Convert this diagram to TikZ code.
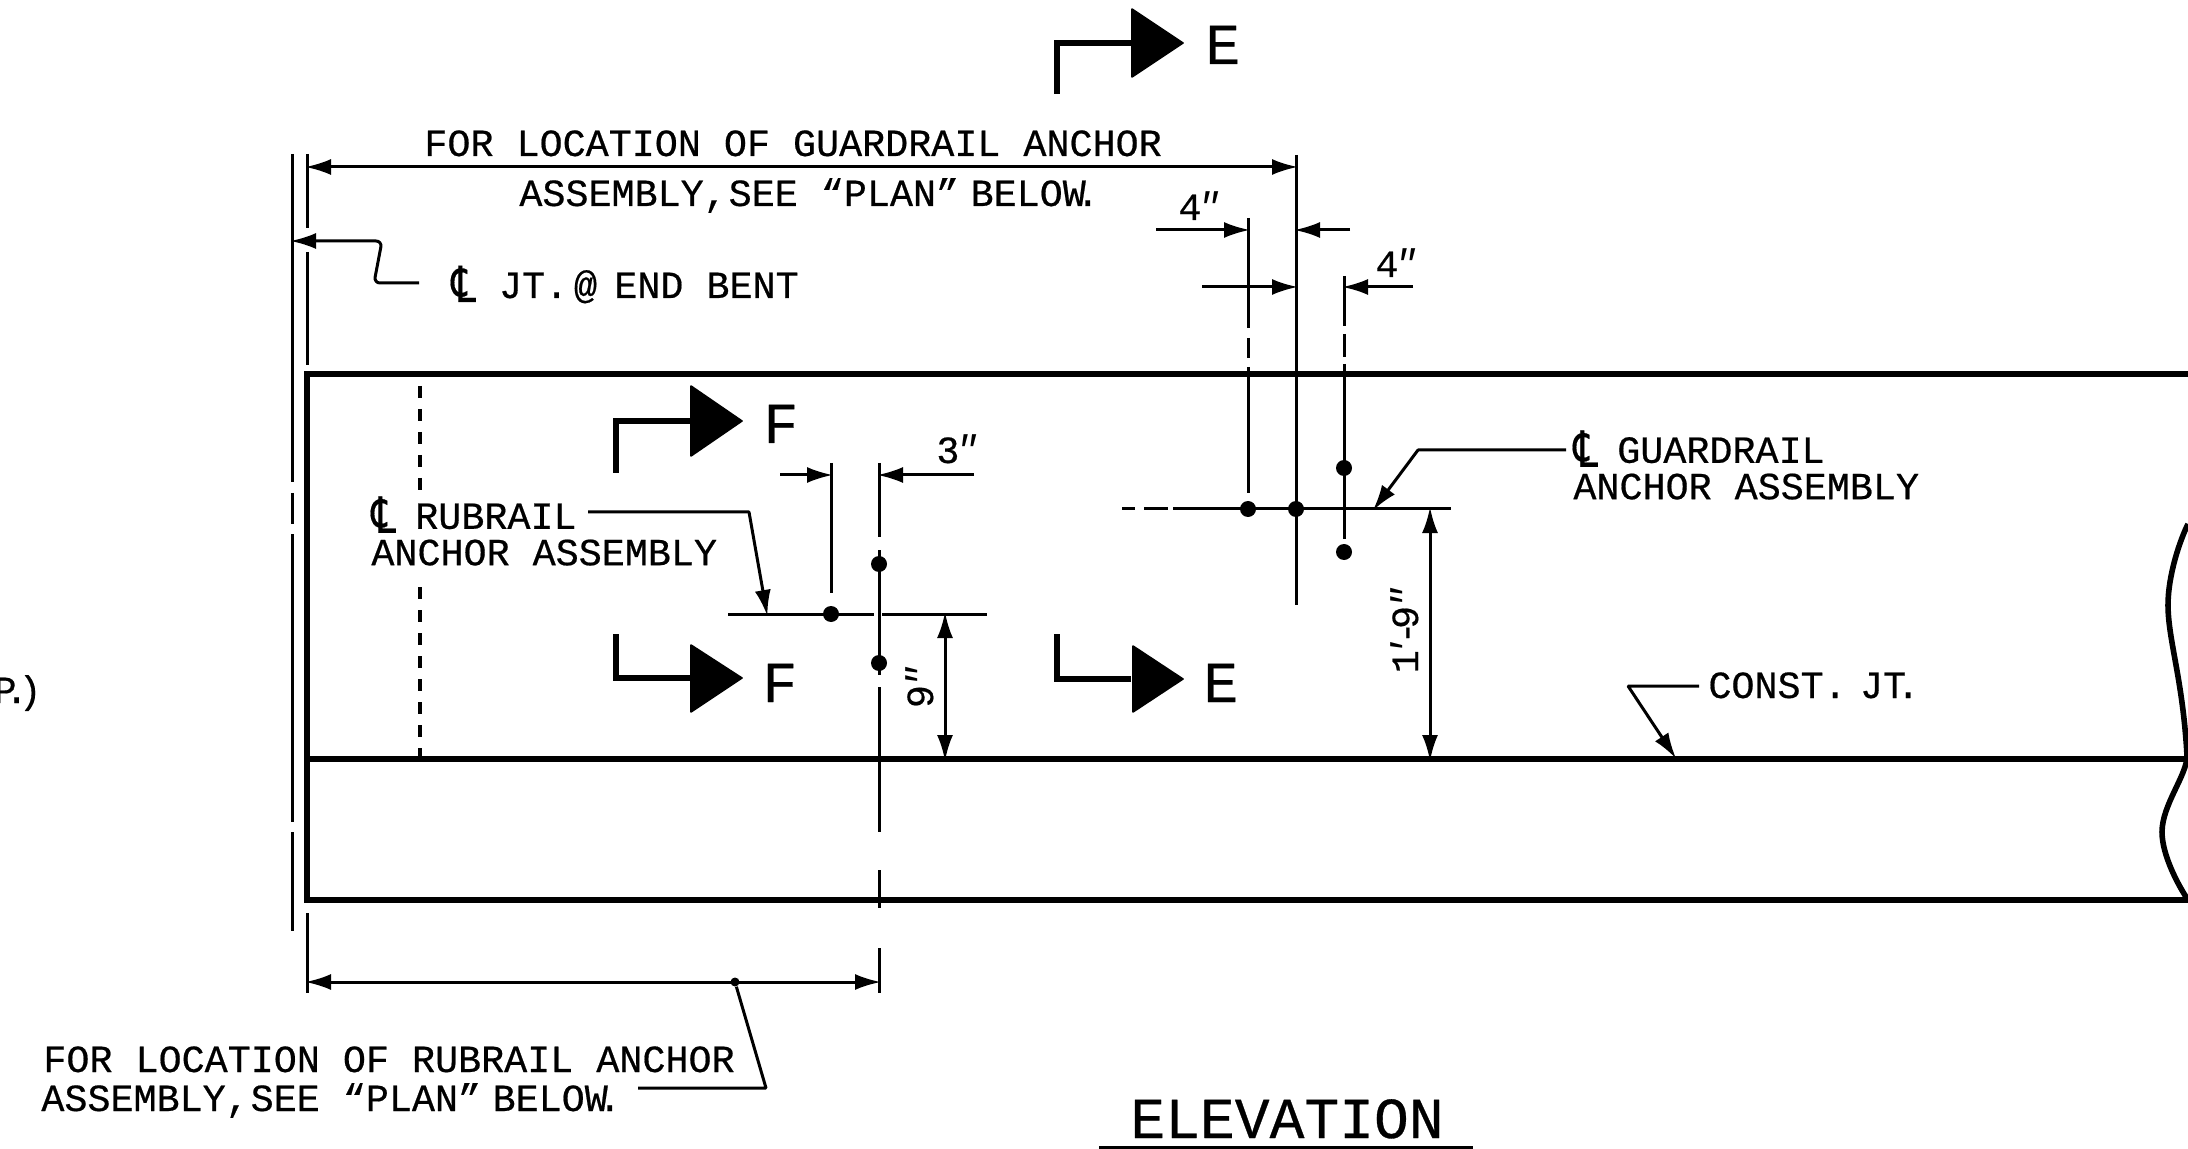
\documentclass[tikz,border=0pt]{standalone}
\usepackage{graphicx}
\usepackage{fontspec}
\setmonofont{Liberation Mono}[UprightFeatures={FakeBold=0.5}]
\newfontfamily\clfont{DejaVu Sans}[FakeBold=0.3]
\usetikzlibrary{arrows.meta}
\newcommand{\clmark}{\smash{\raisebox{-2pt}{\scalebox{1}[1.3]{\clfont ℄}}}}
\newcommand{\inch}{\kern-.1em\textit{″}}
\tikzset{
  lbl/.style={font=\ttfamily\fontsize{19.2}{19.2}\selectfont,inner sep=0pt,anchor=base west},
  mlbl/.style={font=\ttfamily\fontsize{19.2}{18.2}\selectfont,inner sep=0pt,align=left,anchor=south west},
  cutlbl/.style={font=\ttfamily\fontsize{29}{29}\selectfont,inner sep=0pt,anchor=base west},
  thin_line/.style={black,line width=1.5pt},
  thick_line/.style={black,line width=2.8pt},
  cut_line/.style={black,line width=3pt,line join=miter},
  dim_line/.style={black,line width=1.5pt,shorten <=-1pt,shorten >=-1pt},
  dot_node/.style={circle,fill=black,draw=none,inner sep=0pt,minimum size=8pt},
  cut_tip/.style={fill=black,draw=black,line width=.8pt,line join=round},
}
\begin{document}
\begin{tikzpicture}[>={Latex[length=13pt,width=8pt]},line join=bevel,x=0.5pt,y=-0.5pt]
\useasboundingbox (0,0) rectangle (2188,1149);
%%
\draw [thick_line,line join=miter] (2188,374) -- (307,374) -- (307,900) -- (2188,900);
  \draw [thick_line] (307,759) -- (2187,759);
  \draw [thick_line] (2188,524) .. controls (2180,540) and (2168,575) .. (2168,605)
     .. controls (2168,640) and (2183,680) .. (2187,756)
     .. controls (2187,775) and (2162,805) .. (2162,832)
     .. controls (2162,855) and (2178,885) .. (2188,900);
  \draw [black,line width=2.25pt,dash pattern=on 6pt off 5.5pt] (420,386) -- (420,497);
  \draw [black,line width=2.25pt,dash pattern=on 6pt off 5.5pt] (420,587) -- (420,759);
%
% joint and extension lines
  \draw [thin_line] (292,154) -- (292,482) (292,493) -- (292,524) (292,534) -- (292,822) (292,832) -- (292,931);
  \draw [thin_line] (307,154) -- (307,228) (307,252) -- (307,365) (307,913) -- (307,993);
  \draw [thin_line] (831,463) -- (831,593);
  \draw [thin_line] (879,463) -- (879,537) (879,550) -- (879,675) (879,687) -- (879,832) (879,870) -- (879,908) (879,948) -- (879,993);
  \draw [thin_line] (1296,155) -- (1296,605);
  \draw [thin_line] (1248,218) -- (1248,328) (1248,338) -- (1248,358) (1248,367) -- (1248,493);
  \draw [thin_line] (1344,276) -- (1344,326) (1344,334) -- (1344,357) (1344,364) -- (1344,539);
  \draw [thin_line] (728,614) -- (874,614) (882,614) -- (987,614);
  \draw [thin_line] (1122,509) -- (1135,509) (1144,509) -- (1168,509) (1173,509) -- (1451,509);
%
\node (dot_r1) at (831,614) [dot_node] {};
  \node (dot_r2) at (879,564) [dot_node] {};
  \node (dot_r3) at (879,663) [dot_node] {};
  \node (dot_g1) at (1248,509) [dot_node] {};
  \node (dot_g2) at (1296,509) [dot_node] {};
  \node (dot_g3) at (1344,468) [dot_node] {};
  \node (dot_g4) at (1344,552) [dot_node] {};
  \node (dot_dim) at (735,982) [circle,fill=black,inner sep=0pt,minimum size=4.5pt] {};
%
% section cuts
  \draw [cut_line] (1057,94) |- (1131,43);
  \draw [cut_tip] (1132,9) -- (1183,43) -- (1132,77) -- cycle;
  \draw [cut_line] (616,473) |- (690,421);
  \draw [cut_tip] (691,386) -- (742,421) -- (691,456) -- cycle;
  \draw [cut_line] (616,634) |- (690,678);
  \draw [cut_tip] (691,645) -- (742,678) -- (691,712) -- cycle;
  \draw [cut_line] (1057,634) |- (1131,679);
  \draw [cut_tip] (1133,646) -- (1183,679) -- (1133,712) -- cycle;
  \node (cut_e1) at (1205,64) [cutlbl] {E};
  \node (cut_f1) at (763,443) [cutlbl] {F};
  \node (cut_f2) at (762,702) [cutlbl] {F};
  \node (cut_e2) at (1203,702) [cutlbl] {E};
%
\node (txt_guard1) at (424,156) [lbl] {FOR LOCATION OF GUARDRAIL ANCHOR};
  \node (txt_guard2) at (519,206) [lbl] {ASSEMBLY,\kern-.55em\ SEE “PLAN”\kern-.3em\ BELOW\kern-.25em.};
  \node (txt_joint) at (451,298) [lbl] {\clmark\ JT.\kern-.45em\ @\kern-.15em\ END BENT};
  \node (txt_rub) at (371,566) [mlbl] {\clmark\kern-.1em\ RUBRAIL\\ANCHOR ASSEMBLY};
  \node (txt_rail) at (1573,500) [mlbl] {\clmark\kern-.1em\ GUARDRAIL\\ANCHOR ASSEMBLY};
  \node (txt_const) at (1708,698) [lbl] {CONST.\kern-.25em\ JT\kern-.25em.};
  \node (txt_rub3) at (43,1072) [lbl] {FOR LOCATION OF RUBRAIL ANCHOR};
  \node (txt_rub4) at (41,1111) [lbl] {ASSEMBLY,\kern-.55em\ SEE “PLAN”\kern-.3em\ BELOW\kern-.25em.};
  \node (txt_elev) at (1130,1138) [cutlbl] {ELEVATION};
  \node (txt_side) at (42,703) [lbl,anchor=base east] {P\kern-.3em.\kern-.25em)};
  \node (dim_3) at (936,463) [lbl] {3\inch};
  \node (dim_4a) at (1178,220) [lbl] {4\inch};
  \node (dim_4b) at (1375,277) [lbl] {4\inch};
  \node (dim_9) at (933,687) [lbl,rotate=90,anchor=base] {9\inch};
  \node (dim_19) at (1418,630) [lbl,rotate=90,anchor=base] {1\kern-.25em\textit{′}\kern-.2em-\kern-.2em9\inch};
%
\coordinate (c_top_l) at (307,167);
  \coordinate (c_top_r) at (1296,167);
  \coordinate (c_bot_l) at (307,982);
  \coordinate (c_bot_r) at (879,982);
  \coordinate (c_9_a) at (945,614);
  \coordinate (c_9_b) at (945,759);
  \coordinate (c_19_a) at (1430,509);
  \coordinate (c_19_b) at (1430,759);
  \draw [dim_line,<->] (c_top_l) -- (c_top_r);
  \draw [dim_line,<->] (c_bot_l) -- (c_bot_r);
  \draw [dim_line,<->] (c_9_a) -- (c_9_b);
  \draw [dim_line,<->] (c_19_a) -- (c_19_b);
  \draw [dim_line,->] (782,475) -- (831,475);
  \draw [dim_line,->] (972,475) -- (879,475);
  \draw [dim_line,->] (1158,230) -- (1248,230);
  \draw [dim_line,->] (1348,230) -- (1296,230);
  \draw [dim_line,->] (1204,287) -- (1296,287);
  \draw [dim_line,->] (1411,287) -- (1344,287);
%
% leaders
  \draw [dim_line,->,rounded corners=3pt] (417,283) -- (374,283) -- (382,241) -- (292,241);
  \draw [dim_line,->] (590,512) -- (749,512) -- (767,614);
  \draw [dim_line,->] (1564,450) -- (1418,450) -- (1374,509);
  \draw [dim_line,->] (1697,686) -- (1628,686) -- (1675,757);
  \draw [thin_line] (dot_dim) -- (766,1088) -- (638,1088);
  \draw [thin_line] (1099,1147) -- (1473,1147);
%
\end{tikzpicture}
\end{document}
